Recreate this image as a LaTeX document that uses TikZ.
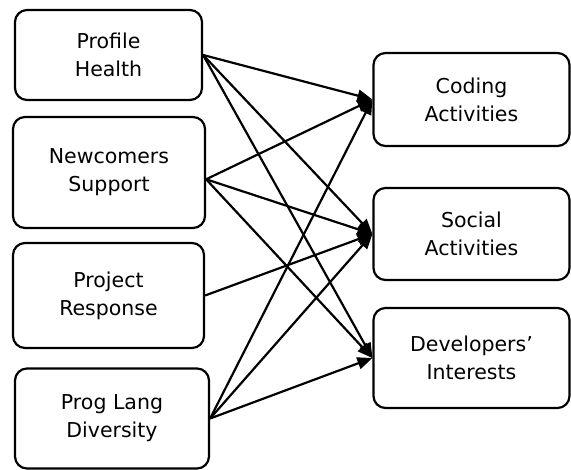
\documentclass[tikz,border=0pt]{standalone}
\usepackage{fontspec}
\setmainfont{DejaVu Sans}
\usetikzlibrary{arrows.meta}

\begin{document}
\begin{tikzpicture}[x=1pt, y=-1pt,
    box/.style={draw, rounded corners=12pt, line width=2.2pt, align=center,
      font=\fontsize{20.5}{28}\selectfont},
    link/.style={line width=2.2pt, -{Triangle[length=15pt, width=12pt]}}]
    \useasboundingbox (0,0) rectangle (571,470);
    % 左側のノード
    \node[box, minimum width=187pt, minimum height=90pt] (profile) at (108.5, 55) {Profile\\Health};
    \node[box, minimum width=192pt, minimum height=111pt] (newcomers) at (109, 172.5) {Newcomers\\Support};
    \node[box, minimum width=191pt, minimum height=105pt] (response) at (108.5, 295.5) {Project\\Response};
    \node[box, minimum width=194pt, minimum height=100pt] (proglang) at (112, 418.5) {Prog Lang\\Diversity};

    % 右側のノード
    \node[box, minimum width=196pt, minimum height=93pt] (coding) at (471.5, 99.5) {Coding\\Activities};
    \node[box, minimum width=196pt, minimum height=92pt] (social) at (471.5, 234) {Social\\Activities};
    \node[box, minimum width=196pt, minimum height=100pt] (interests) at (471.5, 358) {Developers’\\Interests};

    % 矢印
    \draw[link] (profile.east) -- (coding.west);
    \draw[link] (profile.east) -- (social.west);
    \draw[link] (profile.east) -- (interests.west);
    \draw[link] (newcomers.-4) -- (coding.west);
    \draw[link] (newcomers.-4) -- (social.west);
    \draw[link] (newcomers.-4) -- (interests.west);
    \draw[link] (response.east) -- (social.west);
    \draw[link] (proglang.east) -- (coding.west);
    \draw[link] (proglang.east) -- (social.west);
    \draw[link] (proglang.east) -- (interests.west);
\end{tikzpicture}
\end{document}
